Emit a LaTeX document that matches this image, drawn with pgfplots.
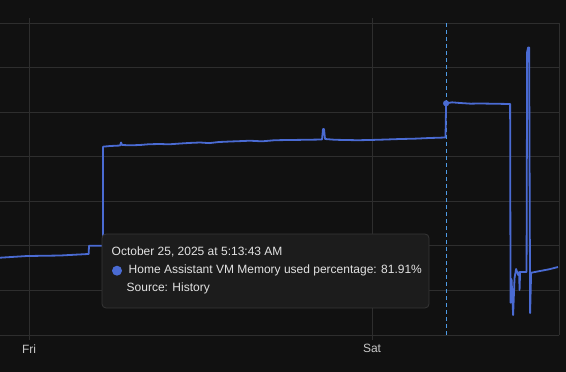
\documentclass[border=0pt]{standalone}
\usepackage{fontspec}
\setmainfont{Liberation Sans}
\usepackage{pgfplots}
\pgfplotsset{compat=1.18}
\definecolor{bg}{HTML}{111111}
\definecolor{gridc}{HTML}{2E2E2E}
\definecolor{linec}{HTML}{4A6BD3}
\definecolor{dashc}{HTML}{4E9BE6}
\definecolor{tipbg}{HTML}{1C1C1C}
\definecolor{tipborder}{HTML}{363636}
\definecolor{txt}{HTML}{E2E2E2}
\definecolor{ticktxt}{HTML}{C8C8C8}
\begin{document}
\begin{tikzpicture}[x=1pt,y=1pt]
\fill[bg] (0,0) rectangle (566,372);
\begin{axis}[
  at={(0pt,37pt)}, anchor=south west, scale only axis,
  width=559pt, height=312pt,
  xmin=-2.029, xmax=37.08, ymin=30, ymax=100,
  axis line style={draw=none},
  xtick={0,24}, xticklabels={Fri,Sat},
  ytick={30,40,...,100}, yticklabel=\empty,
  grid=major, major grid style={gridc, line width=0.8pt},
  xtick style={gridc, line width=0.8pt},
  tick align=outside, major tick length=5pt,
  ytick style={draw=none},
  xticklabel style={font=\fontsize{12}{14}\selectfont, text=ticktxt, yshift=-1pt},
  clip=false,
]
\draw[gridc, line width=0.8pt] (rel axis cs:1,0) -- (rel axis cs:1,1);
\addplot[dashc, line width=0.9pt, dash pattern=on 4pt off 3pt] coordinates {(29.18,30) (29.18,100)};
\addplot[linec, line width=1.8pt, line join=round] coordinates {
(-2.03,47.34) (-0.14,47.72) (2.17,47.83) (4.13,48.17) (4.17,48.17)
(4.20,50.03) (5.18,50.03) (5.18,72.25) (5.67,72.40) (6.37,72.51) (6.44,73.19)
(6.51,72.63) (7.10,72.55) (7.77,72.63) (8.40,72.80) (9.17,72.85) (9.80,72.78)
(10.57,72.96) (11.30,73.10) (11.97,73.19) (12.60,73.05) (13.30,73.30) (14.06,73.41)
(14.80,73.50) (15.46,73.59) (16.30,73.45) (17.20,73.70) (18.26,73.75) (19.40,73.80)
(20.50,73.86) (20.57,76.22) (20.64,76.22) (20.71,73.97) (21.40,73.80) (22.11,73.75)
(23.00,73.70) (23.86,73.75) (24.90,73.85) (25.96,73.97) (27.00,74.05) (28.06,74.20)
(29.14,74.31) (29.18,81.98) (29.60,82.20) (30.16,82.05) (30.90,81.90) (31.56,81.94)
(32.60,81.88) (33.66,81.83) (33.69,37.24) (33.76,42.56) (33.87,34.49) (33.97,42.79)
(34.08,44.81) (34.22,43.46) (34.29,44.13) (34.32,40.09) (34.36,44.13) (34.64,44.13)
(34.81,44.13) (34.85,93.49) (34.92,94.50) (34.99,94.50) (35.06,34.93) (35.13,43.97)
(35.76,44.36) (36.40,44.75) (37.01,45.25)
};
\addplot[only marks, mark=*, mark size=2.8pt, mark options={fill=linec, draw=linec}] coordinates {(29.18,81.98)};
\end{axis}
\draw[tipborder, fill=tipbg, rounded corners=4pt, line width=0.8pt] (102,64) rectangle (429,138);
\node[anchor=west, inner sep=0pt, text=txt, font=\fontsize{12}{14}\selectfont] at (111.5,119.7) {October 25, 2025 at 5:13:43 AM};
\fill[linec] (117,101.3) circle (5);
\node[anchor=west, inner sep=0pt, text=txt, font=\fontsize{12}{14}\selectfont] at (128.5,101.3) {Home Assistant VM Memory used percentage: 81.91\%};
\node[anchor=west, inner sep=0pt, text=txt, font=\fontsize{12}{14}\selectfont] at (126.5,83.7) {Source: History};
\pgfresetboundingbox
\path[use as bounding box] (0,0) rectangle (566,372);
\end{tikzpicture}
\end{document}
